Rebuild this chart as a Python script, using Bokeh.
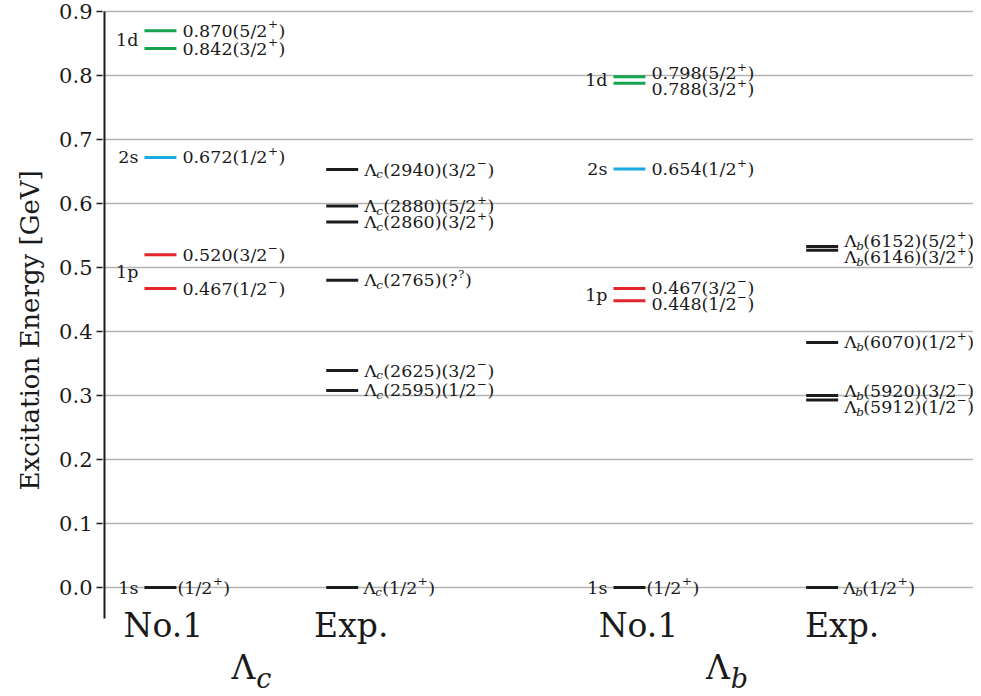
from bokeh.plotting import figure
from bokeh.models import Range1d, FixedTicker, PrintfTickFormatter, ColumnDataSource, Title
from bokeh.core.properties import value, field
from bokeh.embed import file_html
from bokeh.resources import INLINE

# ---------------- data ----------------
column_labels = ["No.1", "Exp.", "No.1", "Exp."]
group_subscripts = ["c", "b"]          # Λ_c , Λ_b
y_ticks = [0.0, 0.1, 0.2, 0.3, 0.4, 0.5, 0.6, 0.7, 0.8, 0.9]
y_label = "Excitation Energy [GeV]"

lc_model_E = [0.000, 0.467, 0.520, 0.672, 0.842, 0.870]
lc_model_J = ["1/2", "1/2", "3/2", "1/2", "3/2", "5/2"]
lc_model_P = ["+", "-", "-", "+", "+", "+"]
lc_model_shell = ["1s", "1p", "1p", "2s", "1d", "1d"]

lc_exp_E = [0.000, 0.308, 0.339, 0.480, 0.571, 0.596, 0.653]
lc_exp_name = ["", "2595", "2625", "2765", "2860", "2880", "2940"]
lc_exp_J = ["1/2", "1/2", "3/2", "?", "3/2", "5/2", "3/2"]
lc_exp_P = ["+", "-", "-", "?", "+", "+", "-"]

lb_model_E = [0.000, 0.448, 0.467, 0.654, 0.788, 0.798]
lb_model_J = ["1/2", "1/2", "3/2", "1/2", "3/2", "5/2"]
lb_model_P = ["+", "-", "-", "+", "+", "+"]
lb_model_shell = ["1s", "1p", "1p", "2s", "1d", "1d"]

lb_exp_E = [0.000, 0.293, 0.300, 0.383, 0.527, 0.533]
lb_exp_name = ["", "5912", "5920", "6070", "6146", "6152"]
lb_exp_J = ["1/2", "1/2", "3/2", "1/2", "3/2", "5/2"]
lb_exp_P = ["+", "-", "-", "+", "+", "+"]

# ---------------- style / layout ----------------
FONT = "DejaVu Serif"
TXT = "#1a1a1a"
BLACK = "#1c1c1c"
shell_colors = {"1s": BLACK, "1p": "#e3262b", "2s": "#19a9e3", "1d": "#17a24f"}
SUP = {"+": "+", "-": "\u2212", "?": "?"}
FS = 17.5                 # level label font size
SUB = 0.68                # sub/superscript scale

W, H = 973, 696
LEFT = 101                # frame left (page px)
PX_X = 182.0              # px per x unit
PX_Y = 640.0              # px per GeV
col_x = [1.0, 2.0, 3.58, 4.64]
half_w = 16 / PX_X
tick_dx = [3, 9, 9, 20]   # px shift of column captions

def X(page_x):
    return col_x[0] + (page_x - 159) / PX_X

def Y(page_y):
    return (587 - page_y) / PX_Y

x_start, x_end = X(LEFT), X(W)
y_start, y_end = Y(H), Y(0)

W_EM = {"(": 0.390, ")": 0.390, "/": 0.337, "?": 0.533, ".": 0.318,
        "+": 0.838, "\u2212": 0.838, "\u039b": 0.69}
def text_w(s, fs):
    return sum(W_EM.get(c, 0.636) for c in s) * fs

p = figure(width=W, height=H, output_backend="svg", toolbar_location=None,
           x_range=Range1d(x_start, x_end), y_range=Range1d(y_start, y_end),
           x_axis_location=None, min_border_left=LEFT, min_border_right=0,
           min_border_top=0, min_border_bottom=0)
p.outline_line_color = None
p.xgrid.visible = False
p.ygrid.grid_line_color = "#b3b3b3"
p.ygrid.grid_line_width = 1.6

ax = p.yaxis[0]
ax.ticker = FixedTicker(ticks=y_ticks)
ax.formatter = PrintfTickFormatter(format="%.1f")
ax.axis_line_color = None
ax.major_tick_in = 0
ax.major_tick_out = 6
ax.major_tick_line_color = BLACK
ax.major_tick_line_width = 1.6
ax.minor_tick_line_color = None
ax.major_label_text_font = FONT
ax.major_label_text_font_size = "21px"
ax.major_label_text_color = TXT
ax.major_label_standoff = 4

p.add_layout(Title(text=y_label, align="left", offset=206, text_font=FONT,
                   text_font_size="26px", text_font_style="normal",
                   text_color=TXT, standoff=24), "left")

# spine
p.segment(x0=[X(103)], y0=[Y(618)], x1=[X(103)], y1=[y_ticks[-1]],
          line_color=BLACK, line_width=2)

recs = {}
def add_text(align, x, y, text, xo=0.0, yo=0.0, fs=FS, style="normal"):
    r = recs.setdefault((align, style), dict(x=[], y=[], text=[], xo=[], yo=[], fs=[]))
    r["x"].append(x); r["y"].append(y); r["text"].append(text)
    r["xo"].append(xo); r["yo"].append(yo); r["fs"].append(f"{fs:.2f}px")

def add_level_label(x, y, xo, yo, main, sup):
    add_text("left", x, y, main, xo, yo)
    sx = xo + text_w(main, FS) + 0.5
    add_text("left", x, y, sup, sx, yo - 0.36 * FS, SUB * FS)
    add_text("left", x, y, ")", sx + text_w(sup, SUB * FS) + 0.5, yo)

def label_positions(E):
    yl = list(E); off = [0.0] * len(E)
    order = sorted(range(len(E)), key=lambda i: E[i])
    for a, b in zip(order, order[1:]):
        if (E[b] - E[a]) * PX_Y < 15:
            m = (E[a] + E[b]) / 2
            yl[a] = yl[b] = m
            off[b] = -7.0
            off[a] = 9.0
    return yl, off

bars = dict(x0=[], x1=[], y=[], color=[])

columns = [
    dict(kind="model", E=lc_model_E, J=lc_model_J, P=lc_model_P, shell=lc_model_shell),
    dict(kind="exp", E=lc_exp_E, J=lc_exp_J, P=lc_exp_P, name=lc_exp_name, sub=group_subscripts[0]),
    dict(kind="model", E=lb_model_E, J=lb_model_J, P=lb_model_P, shell=lb_model_shell),
    dict(kind="exp", E=lb_exp_E, J=lb_exp_J, P=lb_exp_P, name=lb_exp_name, sub=group_subscripts[1]),
]

for xc, col in zip(col_x, columns):
    E = col["E"]
    yl, off = label_positions(E)
    xr = xc + half_w
    for i, e in enumerate(E):
        bars["x0"].append(xc - half_w); bars["x1"].append(xc + half_w); bars["y"].append(e)
        bars["color"].append(shell_colors[col["shell"][i]] if col["kind"] == "model" else BLACK)
        J, P = col["J"][i], col["P"][i]
        if col["kind"] == "model":
            main = (f"{e:.3f}" if e > 0 else "") + f"({J}"
            add_level_label(xr, yl[i], 1.0 if e == 0 else 6.0, off[i], main, SUP[P])
        else:
            bx = 5.0 if e == 0 else 6.0
            add_text("left", xr, yl[i], "\u039b", bx, off[i])
            add_text("left", xr, yl[i], col["sub"], bx + 0.69 * FS, off[i] + 0.28 * FS,
                     SUB * FS, "italic")
            rx = bx + 0.69 * FS + 0.40 * FS
            name = f"({col['name'][i]})" if col["name"][i] else ""
            add_level_label(xr, yl[i], rx, off[i], f"{name}({J}", SUP[P])
    if col["kind"] == "model":
        shells = []
        for s in col["shell"]:
            if s not in shells:
                shells.append(s)
        for s in shells:
            vals = [e for e, ss in zip(E, col["shell"]) if ss == s]
            add_text("right", xc - half_w, sum(vals) / len(vals), s, -6.0, 0.0)

p.segment(x0="x0", y0="y", x1="x1", y1="y", line_color="color", line_width=3,
          source=ColumnDataSource(bars))

# column captions
for xc, lab, dx in zip(col_x, column_labels, tick_dx):
    add_text("center", xc, Y(625), lab, dx, 0.0, 33.0)

# group captions  Λ_c , Λ_b
for k, sub in enumerate(group_subscripts):
    gx = (col_x[2 * k] + col_x[2 * k + 1]) / 2
    add_text("right", gx, Y(667), "\u039b", 4.0, 0.0, 33.0)
    add_text("left", gx, Y(667), sub, 5.0, 11.0, 27.0, "italic")

for (align, style), r in recs.items():
    p.text(x="x", y="y", text="text", x_offset="xo", y_offset="yo",
           text_font_size=field("fs"), text_align=align, text_baseline="middle",
           text_font=value(FONT), text_font_style=style, text_color=TXT,
           source=ColumnDataSource(r))

open("out.html", "w").write(file_html(p, INLINE))
